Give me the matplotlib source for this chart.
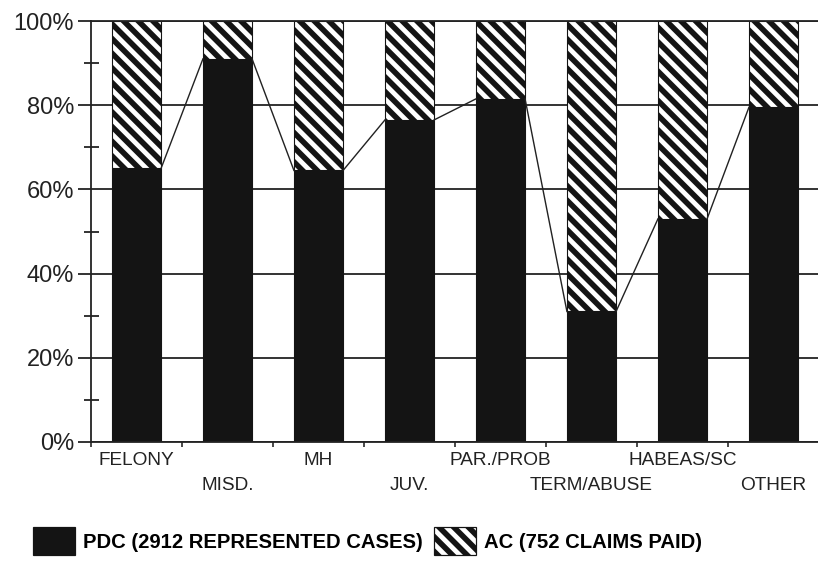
import matplotlib
matplotlib.use("Agg")
import matplotlib.pyplot as plt
import numpy as np
from matplotlib.patches import Patch

# ---- data ----
categories = ["FELONY", "MISD.", "MH", "JUV.", "PAR./PROB", "TERM/ABUSE", "HABEAS/SC", "OTHER"]
pdc_pct = [65.0, 91.0, 64.5, 76.5, 81.5, 31.0, 53.0, 79.5]
ac_pct = [100.0 - v for v in pdc_pct]
y_ticks = [0, 20, 40, 60, 80, 100]
y_tick_labels = ["0%", "20%", "40%", "60%", "80%", "100%"]
y_minor_ticks = [10, 30, 50, 70, 90]
legend_labels = ["PDC (2912 REPRESENTED CASES)", "AC (752 CLAIMS PAID)"]

INK = "#141414"
HATCH = "\\\\"
W, H = 818, 563
DPI = 88  # hatch tile = DPI px -> stripe spacing matches the reference


def P(px):
    """pixels -> points at the chosen dpi"""
    return px * 72.0 / DPI


plt.rcParams["hatch.linewidth"] = P(5.6)
plt.rcParams["font.family"] = ["Liberation Sans", "DejaVu Sans"]

fig = plt.figure(figsize=(W / DPI, H / DPI), dpi=DPI)
ax = fig.add_axes([91 / W, 1 - 442 / H, 728 / W, 421 / H])

x = np.arange(len(categories)) + 0.5
bw = 0.54

ax.bar(x, pdc_pct, bw, color=INK, edgecolor=INK, linewidth=P(1.1), zorder=2)
ax.bar(x, ac_pct, bw, bottom=pdc_pct, color="white", edgecolor=INK,
       hatch=HATCH, linewidth=P(1.1), zorder=2)

# series lines connecting the tops of the PDC segments
for i in range(len(x) - 1):
    ax.plot([x[i] + bw / 2, x[i + 1] - bw / 2], [pdc_pct[i], pdc_pct[i + 1]],
            color="#222222", lw=P(1.4), zorder=3)

ax.set_xlim(0, len(categories))
ax.set_ylim(0, 100)

ax.set_yticks(y_ticks, y_tick_labels)
ax.set_yticks(y_minor_ticks, minor=True)
ax.yaxis.grid(True, which="major", color="#222222", lw=P(1.8), zorder=0)
ax.tick_params(axis="y", which="major", length=P(13), width=P(1.8), direction="out",
               pad=P(4), labelsize=P(23.6), colors="#222222")
ax.tick_params(axis="y", which="minor", length=P(15), width=P(1.8), direction="inout",
               colors="#222222")

ax.set_xticks(np.arange(0, len(categories) + 1))
ax.set_xticklabels([])
ax.tick_params(axis="x", which="major", length=P(5), width=P(1.6), direction="out",
               colors="#222222")

ax.spines["right"].set_visible(False)
for s in ["left", "bottom", "top"]:
    ax.spines[s].set_color("#222222")
    ax.spines[s].set_linewidth(P(1.8))

# alternating two-row category labels
for i, c in enumerate(categories):
    yoff = -0.045 if i % 2 == 0 else -0.104
    ax.text(x[i], yoff, c, transform=ax.get_xaxis_transform(), ha="center",
            va="center", fontsize=P(19), color="#222222")

handles = [Patch(facecolor=INK, edgecolor=INK),
           Patch(facecolor="white", edgecolor=INK, hatch=HATCH)]
fs_px = 20.3
fig.legend(handles, legend_labels, loc="upper left",
           bbox_to_anchor=(33 / W, 1 - 527 / H), ncol=2, frameon=False,
           prop={"family": ["Liberation Sans", "DejaVu Sans"],
                 "weight": "bold", "size": P(fs_px)},
           handlelength=42 / fs_px, handleheight=36 / fs_px,
           handletextpad=8 / fs_px, columnspacing=11 / fs_px,
           borderpad=0, borderaxespad=0)

fig.savefig("out.png", dpi=DPI)
